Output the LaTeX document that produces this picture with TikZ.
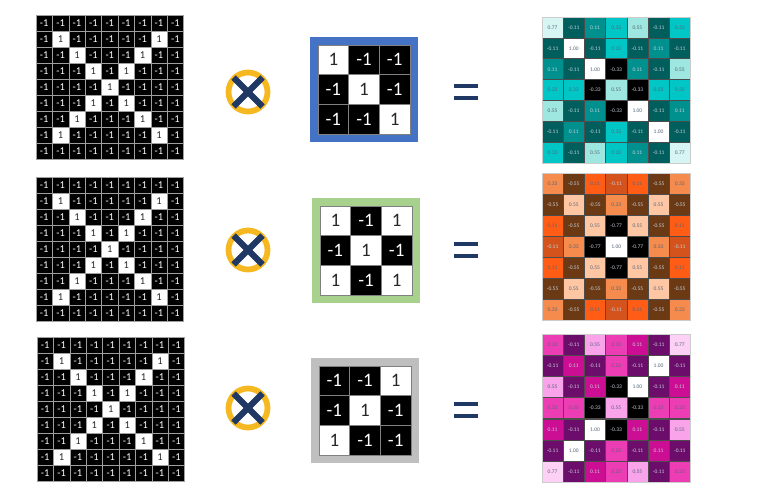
\documentclass[tikz,border=0pt]{standalone}
\usepackage{fontspec}
\setmainfont{Carlito}
\definecolor{navy}{HTML}{1F3864}
\definecolor{gold}{HTML}{F5B820}
\definecolor{kblue}{HTML}{4472C4}
\definecolor{kgreen}{HTML}{A9D18E}
\definecolor{kgray}{HTML}{BFBFBF}
\definecolor{tdark}{HTML}{56677A}
\definecolor{tlight}{HTML}{C6CED8}
\begin{document}
\begin{tikzpicture}[x=1pt,y=-1pt,
  incell/.style={draw=gray!75, line width=0.5pt, minimum width=16.4pt, minimum height=16pt, inner sep=0pt, font=\fontsize{10.5}{10.5}\selectfont},
  inneg/.style={fill=black, text=white},
  inpos/.style={fill=white, text=black!85},
  kcell/.style={draw=gray, line width=0.6pt, minimum width=30.67pt, minimum height=29.67pt, inner sep=0pt, font=\fontsize{19}{19}\selectfont},
  ocell/.style={draw=black!70, line width=0.5pt, minimum width=21.2pt, minimum height=21pt, inner sep=0pt, font=\fontsize{5.5}{5.5}\selectfont},
  opring/.style={circle, draw=gold, line width=5.8pt, fill=white, minimum size=39pt, inner sep=0pt},
  xline/.style={draw=navy, line width=6.2pt},
  eqbar/.style={draw=navy, line width=3.6pt},
  tla/.style={fill={rgb,255:red,0;green,94;blue,92}, text=tlight},
  tlb/.style={fill={rgb,255:red,0;green,145;blue,143}, text=tlight},
  tlc/.style={fill={rgb,255:red,0;green,198;blue,198}, text=tdark},
  tld/.style={fill={rgb,255:red,158;green,230;blue,224}, text=tdark},
  tle/.style={fill={rgb,255:red,214;green,245;blue,243}, text=tdark},
  tlw/.style={fill=white, text=tdark},
  tlk/.style={fill=black, text=tlight},
  ora/.style={fill={rgb,255:red,107;green,58;blue,20}, text=tlight},
  orb/.style={fill={rgb,255:red,255;green,92;blue,22}, text=tdark},
  orc/.style={fill={rgb,255:red,245;green,139;blue,76}, text=tdark},
  ord/.style={fill={rgb,255:red,212;green,83;blue,28}, text=tlight},
  ore/.style={fill={rgb,255:red,255;green,198;blue,164}, text=tdark},
  orw/.style={fill=white, text=tdark},
  ork/.style={fill=black, text=tlight},
  mga/.style={fill={rgb,255:red,108;green,13;blue,108}, text=tlight},
  mgb/.style={fill={rgb,255:red,204;green,14;blue,148}, text=tlight},
  mgc/.style={fill={rgb,255:red,236;green,61;blue,180}, text=tdark},
  mgd/.style={fill={rgb,255:red,248;green,163;blue,234}, text=tdark},
  mge/.style={fill={rgb,255:red,253;green,208;blue,245}, text=tdark},
  mgw/.style={fill=white, text=tdark},
  mgk/.style={fill=black, text=tlight}
]
\useasboundingbox (0,0) rectangle (770,497);

% ---------- input images ----------
\foreach \g/\gx/\gy in {1/36/15, 2/36/177, 3/37/337} {
  \foreach \rr in {1,...,9} {
    \foreach \cc in {1,...,9} {
      \pgfmathtruncatemacro\isone{and(and(\rr>1,\rr<9), or(\rr==\cc, \rr+\cc==10))}
      \ifnum\isone=1
        \node[incell, inpos] (in\g-\rr-\cc) at ({\gx+(\cc-0.5)*16.4},{\gy+(\rr-0.5)*16}) {1};
      \else
        \node[incell, inneg] (in\g-\rr-\cc) at ({\gx+(\cc-0.5)*16.4},{\gy+(\rr-0.5)*16}) {-1};
      \fi
    }
  }
}

% ---------- convolution operators ----------
\foreach \g/\oy in {1/92, 2/250, 3/408} {
  \node[opring] (op\g) at (248,\oy) {};
  \draw[xline] (248-14.5,\oy-14.5) -- (248+14.5,\oy+14.5);
  \draw[xline] (248-14.5,\oy+14.5) -- (248+14.5,\oy-14.5);
}

% ---------- kernels ----------
\draw[kblue, line width=8pt] (314,41) rectangle (414,138);
\draw[kgreen, line width=8pt] (316,202) rectangle (416,299);
\draw[kgray, line width=8pt] (315,362) rectangle (415,459);
\foreach \g/\kx/\ky/\rows in {
   1/318/45/{{1,-1,-1},{-1,1,-1},{-1,-1,1}},
   2/320/206/{{1,-1,1},{-1,1,-1},{1,-1,1}},
   3/319/366/{{-1,-1,1},{-1,1,-1},{1,-1,-1}}} {
  \foreach \row [count=\rr] in \rows {
    \foreach \vv [count=\cc] in \row {
      \ifnum\vv=1
        \node[kcell, inpos] (k\g-\rr-\cc) at ({\kx+(\cc-0.5)*30.67},{\ky+(\rr-0.5)*29.67}) {1};
      \else
        \node[kcell, inneg] (k\g-\rr-\cc) at ({\kx+(\cc-0.5)*30.67},{\ky+(\rr-0.5)*29.67}) {-1};
      \fi
    }
  }
}

% ---------- equals signs ----------
\foreach \ey in {92, 250, 410} {
  \draw[eqbar] (454,\ey-6) -- (478,\ey-6);
  \draw[eqbar] (454,\ey+6) -- (478,\ey+6);
}

% ---------- feature maps ----------
\foreach \row [count=\rr] in {
  {0.77/e,-0.11/a,0.11/b,0.33/c,0.55/d,-0.11/a,0.33/c},
  {-0.11/a,1.00/w,-0.11/a,0.33/c,-0.11/a,0.11/b,-0.11/a},
  {0.11/b,-0.11/a,1.00/w,-0.33/k,0.11/b,-0.11/a,0.55/d},
  {0.33/c,0.33/c,-0.33/k,0.55/d,-0.33/k,0.33/c,0.33/c},
  {0.55/d,-0.11/a,0.11/b,-0.33/k,1.00/w,-0.11/a,0.11/b},
  {-0.11/a,0.11/b,-0.11/a,0.33/c,-0.11/a,1.00/w,-0.11/a},
  {0.33/c,-0.11/a,0.55/d,0.33/c,0.11/b,-0.11/a,0.77/e}} {
  \foreach \vv/\cc [count=\col] in \row {
    \node[ocell, tl\cc] (o1-\rr-\col) at ({542+(\col-0.5)*21.2},{17+(\rr-0.5)*20.9}) {\vv};
  }
}
\foreach \row [count=\rr] in {
  {0.33/c,-0.55/a,0.11/b,-0.11/d,0.11/b,-0.55/a,0.33/c},
  {-0.55/a,0.55/e,-0.55/a,0.33/c,-0.55/a,0.55/e,-0.55/a},
  {0.11/b,-0.55/a,0.55/e,-0.77/k,0.55/e,-0.55/a,0.11/b},
  {-0.11/d,0.33/c,-0.77/k,1.00/w,-0.77/k,0.33/c,-0.11/d},
  {0.11/b,-0.55/a,0.55/e,-0.77/k,0.55/e,-0.55/a,0.11/b},
  {-0.55/a,0.55/e,-0.55/a,0.33/c,-0.55/a,0.55/e,-0.55/a},
  {0.33/c,-0.55/a,0.11/b,-0.11/d,0.11/b,-0.55/a,0.33/c}} {
  \foreach \vv/\cc [count=\col] in \row {
    \node[ocell, or\cc] (o2-\rr-\col) at ({542+(\col-0.5)*21.2},{173+(\rr-0.5)*21}) {\vv};
  }
}
\foreach \row [count=\rr] in {
  {0.33/c,-0.11/a,0.55/d,0.33/c,0.11/b,-0.11/a,0.77/e},
  {-0.11/a,0.11/b,-0.11/a,0.33/c,-0.11/a,1.00/w,-0.11/a},
  {0.55/d,-0.11/a,0.11/b,-0.33/k,1.00/w,-0.11/a,0.11/b},
  {0.33/c,0.33/c,-0.33/k,0.55/d,-0.33/k,0.33/c,0.33/c},
  {0.11/b,-0.11/a,1.00/w,-0.33/k,0.11/b,-0.11/a,0.55/d},
  {-0.11/a,1.00/w,-0.11/a,0.33/c,-0.11/a,0.11/b,-0.11/a},
  {0.77/e,-0.11/a,0.11/b,0.33/c,0.55/d,-0.11/a,0.33/c}} {
  \foreach \vv/\cc [count=\col] in \row {
    \node[ocell, mg\cc] (o3-\rr-\col) at ({542+(\col-0.5)*21.2},{334+(\rr-0.5)*21.2}) {\vv};
  }
}
\draw[gray!40, line width=0.8pt] (542,17) rectangle (690.4,163.3);
\draw[gray!40, line width=0.8pt] (542,173) rectangle (690.4,320);
\draw[gray!40, line width=0.8pt] (542,334) rectangle (690.4,482.4);
\end{tikzpicture}
\end{document}
